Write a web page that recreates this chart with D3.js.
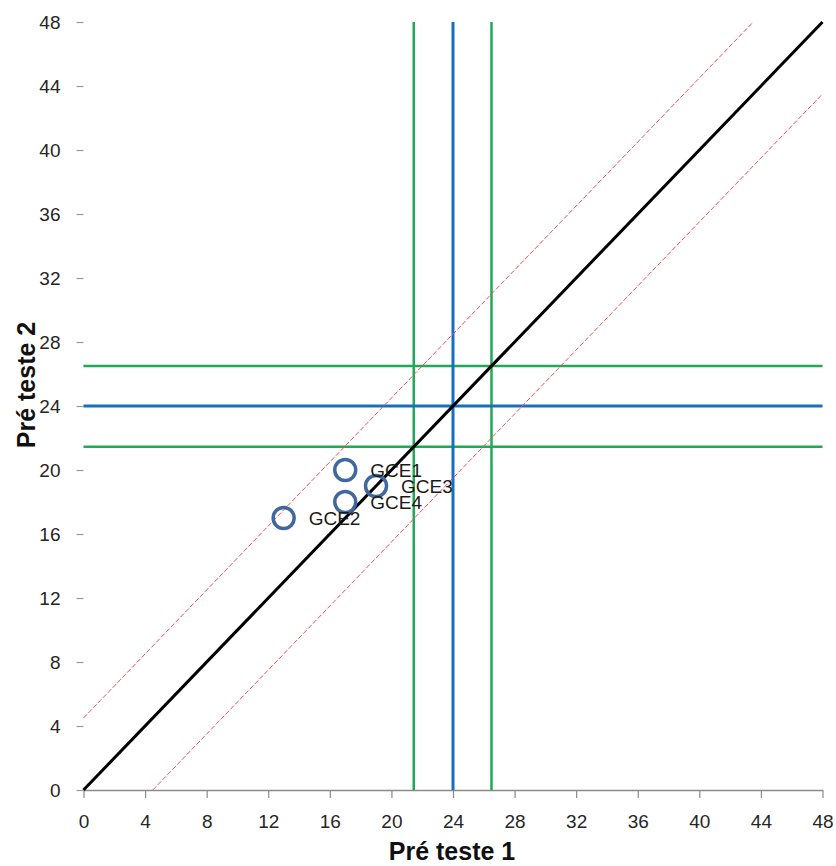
<!DOCTYPE html>
<html>
<head>
<meta charset="utf-8">
<script src="https://cdn.jsdelivr.net/npm/d3@7"></script>
<style>
  html, body { margin: 0; padding: 0; background: #fff; }
  svg { display: block; }
</style>
</head>
<body>
<svg id="chart" width="836" height="866"></svg>
<script>
// ---- data ----
const pointNames = ["GCE1", "GCE2", "GCE3", "GCE4"];
const preTeste1 = [17, 13, 19, 17];
const preTeste2 = [20, 17, 19, 18];
const tickValues = [0, 4, 8, 12, 16, 20, 24, 28, 32, 36, 40, 44, 48];
const meanValue = 24;
const greenBand = [21.45, 26.5];
const redOffset = 4.5;
const axisMax = 48;

// ---- layout ----
const svg = d3.select("#chart");
const x = d3.scaleLinear().domain([0, axisMax]).range([83.5, 822.5]);
const y = d3.scaleLinear().domain([0, axisMax]).range([790, 22]);
const FONT = "'Liberation Sans', Arial, sans-serif";

// x axis
const xAxis = svg.append("g").attr("transform", `translate(0,${y(0)})`)
  .call(d3.axisBottom(x).tickValues(tickValues).tickSize(8).tickSizeOuter(0).tickPadding(17));
xAxis.select(".domain").attr("stroke", "#8a8a8a").attr("stroke-width", 1.5);
xAxis.selectAll(".tick line").attr("stroke", "#8a8a8a").attr("stroke-width", 1.2);
xAxis.selectAll(".tick text").attr("font-family", FONT).attr("font-size", 19).attr("fill", "#262626");

// y axis (no axis line)
const yAxis = svg.append("g").attr("transform", `translate(${x(0)},0)`)
  .call(d3.axisLeft(y).tickValues(tickValues).tickSize(7).tickSizeOuter(0).tickPadding(16));
yAxis.select(".domain").remove();
yAxis.selectAll(".tick line").attr("stroke", "#9a9a9a").attr("stroke-width", 1.2);
yAxis.selectAll(".tick text").attr("font-family", FONT).attr("font-size", 19).attr("fill", "#262626");

// reference lines: green band and blue mean (vertical + horizontal)
const refLines = [
  { v: greenBand[0], c: "#1faa55", w: 2.5 },
  { v: greenBand[1], c: "#1faa55", w: 2.5 },
  { v: meanValue, c: "#1670bf", w: 3 }
];
refLines.forEach(r => {
  svg.append("line")
    .attr("x1", x(r.v)).attr("x2", x(r.v))
    .attr("y1", y(0)).attr("y2", y(axisMax))
    .attr("stroke", r.c).attr("stroke-width", r.w);
  svg.append("line")
    .attr("x1", x(0)).attr("x2", x(axisMax))
    .attr("y1", y(r.v)).attr("y2", y(r.v))
    .attr("stroke", r.c).attr("stroke-width", r.w);
});

// red dashed limits (identity ± offset)
const upper = [[0, redOffset], [axisMax - redOffset, axisMax]];
const lower = [[redOffset, 0], [axisMax, axisMax - redOffset]];
const line = d3.line().x(d => x(d[0])).y(d => y(d[1]));
[upper, lower].forEach(seg => {
  svg.append("path").attr("d", line(seg))
    .attr("fill", "none").attr("stroke", "#f0505a").attr("stroke-width", 1)
    .attr("stroke-dasharray", "5,2");
});

// identity line
svg.append("path").attr("d", line([[0, 0], [axisMax, axisMax]]))
  .attr("fill", "none").attr("stroke", "#000").attr("stroke-width", 3);

// points
const pts = pointNames.map((n, i) => ({ n, a: preTeste1[i], b: preTeste2[i] }));
svg.append("g").selectAll("circle").data(pts).join("circle")
  .attr("cx", d => x(d.a)).attr("cy", d => y(d.b)).attr("r", 10.5)
  .attr("fill", "none").attr("stroke", "#41679f").attr("stroke-width", 3.5);
svg.append("g").selectAll("text").data(pts).join("text")
  .attr("x", d => x(d.a) + 25).attr("y", d => y(d.b)).attr("dy", "0.36em")
  .attr("font-family", FONT).attr("font-size", 19).attr("fill", "#1a1a1a")
  .text(d => d.n);

// axis titles
svg.append("text").attr("x", 452).attr("y", 860).attr("text-anchor", "middle")
  .attr("font-family", FONT).attr("font-weight", "bold").attr("font-size", 25).attr("fill", "#111")
  .text("Pré teste 1");
svg.append("text").attr("transform", "translate(35,385) rotate(-90)").attr("text-anchor", "middle")
  .attr("font-family", FONT).attr("font-weight", "bold").attr("font-size", 25).attr("fill", "#111")
  .text("Pré teste 2");
</script>
</body>
</html>
